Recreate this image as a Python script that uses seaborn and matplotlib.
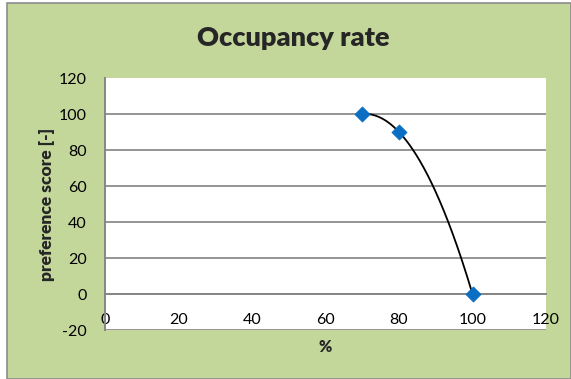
import numpy as np
import pandas as pd
import seaborn as sns
import matplotlib
matplotlib.use("Agg")
import matplotlib.pyplot as plt
from matplotlib.patches import Rectangle

# Data
occupancy = [70, 80, 100]
score = [100, 90, 0]
x_ticks = [0, 20, 40, 60, 80, 100, 120]
y_ticks = [-20, 0, 20, 40, 60, 80, 100, 120]
title = "Occupancy rate"
x_label = "%"
y_label = "preference score [-]"

df = pd.DataFrame({"occupancy": occupancy, "score": score})

# Smooth curve through the measured points (quadratic)
coef = np.polyfit(df["occupancy"], df["score"], 2)
xs = np.linspace(min(occupancy), max(occupancy), 200)
curve = pd.DataFrame({"occupancy": xs, "score": np.polyval(coef, xs)})

sns.set_style("white")
plt.rcParams["font.family"] = ["Lato", "DejaVu Sans"]

W, H = 571, 379
fig = plt.figure(figsize=(W / 100, H / 100), dpi=100)
fig.patch.set_facecolor("white")

green = "#C4D79B"
fig.patches.append(Rectangle((7 / W, 0), (W - 7) / W, (H - 3) / H,
                             transform=fig.transFigure, facecolor=green,
                             edgecolor="#8C8C8C", linewidth=1.2, zorder=-5))

left, right, top, bottom = 105, 546, 78, 330
ax = fig.add_axes([left / W, (H - bottom) / H, (right - left) / W, (bottom - top) / H])
ax.set_zorder(2)
ax.set_facecolor("white")

sns.lineplot(data=curve, x="occupancy", y="score", ax=ax, color="black",
             linewidth=1.3, sort=False, zorder=3)
sns.scatterplot(data=df, x="occupancy", y="score", ax=ax, marker="D", s=60,
                color="#0A6FC2", edgecolor="#0A6FC2", linewidth=0.5, zorder=4)

ax.set_xlim(0, 120)
ax.set_ylim(-20, 120)
ax.set_xticks(x_ticks)
ax.set_yticks(y_ticks)
ax.set_xticklabels([str(v) for v in x_ticks])
ax.set_yticklabels([str(v) for v in y_ticks])

axis_gray = "#868686"
ax.yaxis.grid(True, color="#959595", linewidth=1.4)
ax.xaxis.grid(False)
ax.set_axisbelow(True)
ax.yaxis.get_gridlines()[-1].set_visible(False)

for s in ["top", "right"]:
    ax.spines[s].set_visible(False)
ax.spines["left"].set_color(axis_gray)
ax.spines["left"].set_linewidth(1.4)
ax.spines["bottom"].set_position(("data", 0))
ax.spines["bottom"].set_color(axis_gray)
ax.spines["bottom"].set_linewidth(1.4)

ax.tick_params(axis="both", which="both", direction="out", length=5,
               width=1.0, color=axis_gray, labelsize=11.5, labelcolor="black")
ax.tick_params(axis="x", pad=9)
ax.tick_params(axis="y", pad=8)

ax.set_xlabel(x_label, fontsize=11.5, fontweight="heavy")
ax.set_ylabel(y_label, fontsize=12.5, fontweight="heavy")
ax.xaxis.set_label_coords(0.5, -0.035)
ax.yaxis.set_label_coords(-0.113, 0.5)

fig.text(293 / W, 1 - 38 / H, title, ha="center", va="center",
         fontsize=19.5, fontweight="heavy")

fig.savefig("out.png", dpi=100, facecolor=fig.get_facecolor())
